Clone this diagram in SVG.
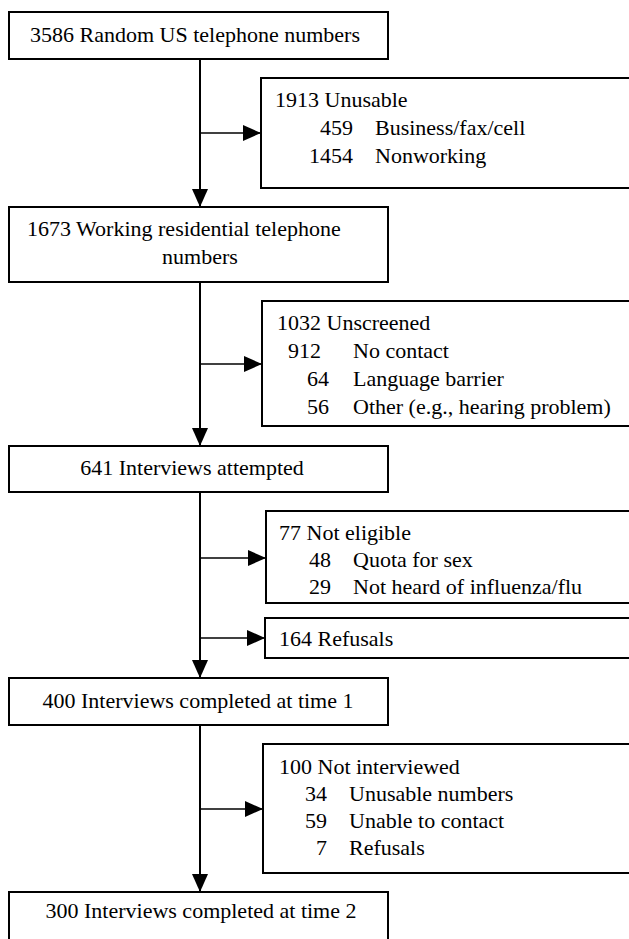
<svg xmlns="http://www.w3.org/2000/svg" width="629" height="939" viewBox="0 0 629 939">
<style>
  .box { fill: #ffffff; stroke: #000000; stroke-width: 2; }
  .t { font-size: 22px; fill: #000000; }
  .m { text-anchor: middle; }
  .e { text-anchor: end; }
  .main { stroke: #000000; stroke-width: 2; fill: none; }
  .br { stroke: #000000; stroke-width: 1.5; fill: none; }
</style>
<defs>
  <marker id="ah" viewBox="0 0 18 16" refX="18" refY="8" markerWidth="18" markerHeight="16" markerUnits="userSpaceOnUse" orient="auto">
    <path d="M0,0 L18,8 L0,16 Z" fill="#000000"/>
  </marker>
</defs>
<rect width="629" height="939" fill="#ffffff"/>

<g id="connectors">
  <line class="main" x1="200" y1="59" x2="200" y2="207" marker-end="url(#ah)"/>
  <line class="main" x1="200" y1="282" x2="200" y2="446" marker-end="url(#ah)"/>
  <line class="main" x1="200" y1="492" x2="200" y2="678" marker-end="url(#ah)"/>
  <line class="main" x1="200" y1="725" x2="200" y2="892" marker-end="url(#ah)"/>
  <line class="br" x1="200" y1="133" x2="261" y2="133" marker-end="url(#ah)"/>
  <line class="br" x1="200" y1="364" x2="262" y2="364" marker-end="url(#ah)"/>
  <line class="br" x1="200" y1="558" x2="266" y2="558" marker-end="url(#ah)"/>
  <line class="br" x1="200" y1="638" x2="265" y2="638" marker-end="url(#ah)"/>
  <line class="br" x1="200" y1="809" x2="263" y2="809" marker-end="url(#ah)"/>
</g>

<g font-family="Liberation Serif, DejaVu Serif, serif">
<g id="n1">
  <rect class="box" x="9" y="12" width="379" height="47"/>
  <text class="t m" x="195" y="42">3586 Random US telephone numbers</text>
</g>

<g id="s1">
  <rect class="box" x="261" y="78" width="380" height="110"/>
  <text class="t" x="275" y="107">1913 Unusable</text>
  <text class="t e" x="353" y="135">459</text>
  <text class="t" x="375" y="135">Business/fax/cell</text>
  <text class="t e" x="353" y="163">1454</text>
  <text class="t" x="375" y="163">Nonworking</text>
</g>

<g id="n2">
  <rect class="box" x="9" y="207" width="379" height="75"/>
  <text class="t" x="27" y="236">1673 Working residential telephone</text>
  <text class="t m" x="200" y="264">numbers</text>
</g>

<g id="s2">
  <rect class="box" x="262" y="301" width="380" height="125"/>
  <text class="t" x="277" y="330">1032 Unscreened</text>
  <text class="t e" x="321" y="358">912</text>
  <text class="t" x="353" y="358">No contact</text>
  <text class="t e" x="329" y="386">64</text>
  <text class="t" x="353" y="386">Language barrier</text>
  <text class="t e" x="329" y="414">56</text>
  <text class="t" x="353" y="414">Other (e.g., hearing problem)</text>
</g>

<g id="n3">
  <rect class="box" x="9" y="446" width="379" height="46"/>
  <text class="t m" x="192" y="475">641 Interviews attempted</text>
</g>

<g id="s3">
  <rect class="box" x="266" y="511" width="376" height="92"/>
  <text class="t" x="279" y="540">77 Not eligible</text>
  <text class="t e" x="331" y="567">48</text>
  <text class="t" x="353" y="567">Quota for sex</text>
  <text class="t e" x="331" y="594">29</text>
  <text class="t" x="353" y="594">Not heard of influenza/flu</text>
</g>

<g id="s4">
  <rect class="box" x="265" y="618" width="377" height="40"/>
  <text class="t" x="279" y="646">164 Refusals</text>
</g>

<g id="n4">
  <rect class="box" x="9" y="678" width="379" height="47"/>
  <text class="t m" x="198" y="708">400 Interviews completed at time 1</text>
</g>

<g id="s5">
  <rect class="box" x="263" y="744" width="379" height="129"/>
  <text class="t" x="279" y="774">100 Not interviewed</text>
  <text class="t e" x="327" y="801">34</text>
  <text class="t" x="349" y="801">Unusable numbers</text>
  <text class="t e" x="327" y="828">59</text>
  <text class="t" x="349" y="828">Unable to contact</text>
  <text class="t e" x="327" y="855">7</text>
  <text class="t" x="349" y="855">Refusals</text>
</g>

<g id="n5">
  <rect class="box" x="9" y="892" width="379" height="60"/>
  <text class="t m" x="201" y="918">300 Interviews completed at time 2</text>
</g>
</g>
</svg>
